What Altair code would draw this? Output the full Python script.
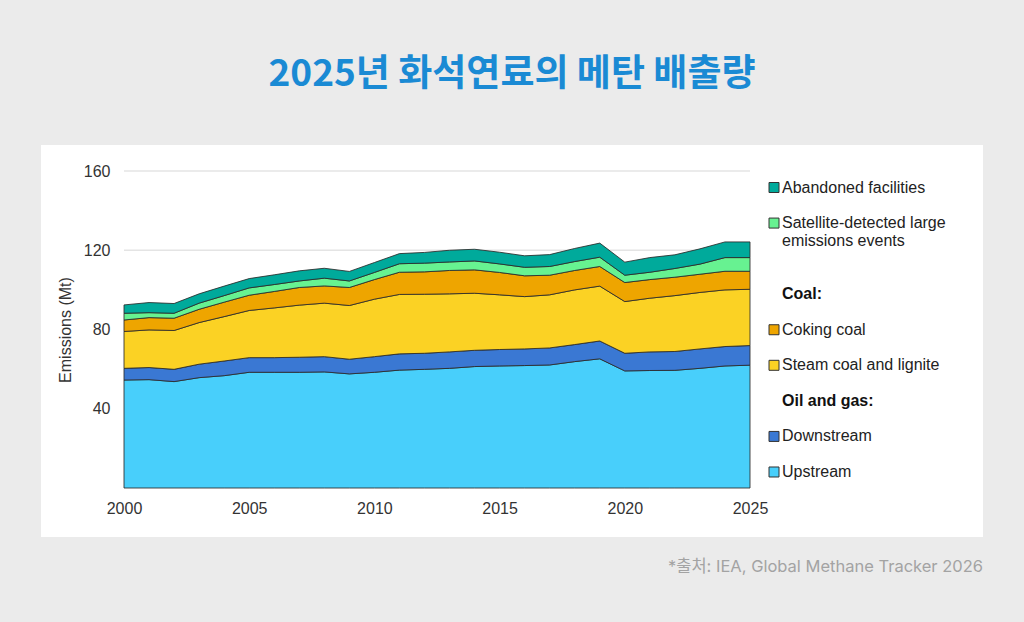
import altair as alt
import pandas as pd

# ---------------- data ----------------
years = list(range(2000, 2026))
upstream = [54.5, 54.7, 53.7, 55.7, 56.7, 58.4, 58.4, 58.4, 58.6, 57.6, 58.4, 59.5, 59.9,
            60.4, 61.3, 61.6, 61.8, 62.1, 63.8, 65.2, 59.1, 59.3, 59.4, 60.4, 61.6, 62.0]
downstream = [5.9, 6.1, 6.2, 6.8, 7.4, 7.4, 7.4, 7.6, 7.7, 7.4, 7.9, 8.2, 8.1,
              8.3, 8.2, 8.3, 8.4, 8.6, 8.6, 9.0, 8.9, 9.4, 9.5, 9.8, 9.8, 9.9]
steam_coal = [18.6, 19.0, 19.6, 21.0, 22.4, 23.8, 25.1, 26.3, 27.0, 27.1, 29.0, 30.0, 29.8,
              29.3, 28.8, 27.6, 26.4, 26.8, 27.6, 27.7, 26.1, 27.1, 28.2, 28.5, 28.6, 28.4]
coking_coal = [5.8, 6.2, 6.2, 6.7, 7.3, 7.7, 8.3, 8.9, 8.7, 9.1, 9.9, 11.2, 11.3,
               11.8, 11.8, 11.3, 10.5, 9.9, 9.8, 9.9, 9.6, 9.4, 9.3, 9.2, 9.4, 9.1]
satellite = [3.4, 2.5, 2.5, 3.1, 3.3, 3.7, 3.5, 3.3, 3.9, 3.3, 3.6, 4.3, 4.4,
             4.3, 4.5, 4.3, 4.3, 4.4, 4.5, 4.7, 3.7, 3.7, 4.4, 5.1, 6.9, 6.9]
abandoned = [4.2, 5.1, 4.9, 4.7, 4.8, 4.7, 4.9, 5.1, 5.0, 4.8, 5.0, 5.1, 5.4,
             5.9, 5.9, 5.9, 5.8, 6.0, 6.6, 7.1, 6.6, 7.4, 6.9, 7.7, 7.9, 7.9]

series_names = ["Upstream", "Downstream", "Steam coal and lignite", "Coking coal",
                "Satellite-detected large emissions events", "Abandoned facilities"]
series_colors = ["#48CFFB", "#3A78D3", "#FBD224", "#EEA500", "#67F291", "#00AA9B"]

x_ticks = [2000, 2005, 2010, 2015, 2020, 2025]
y_ticks = [40, 80, 120, 160]

legend_items = ["Abandoned facilities", "Satellite-detected large emissions events",
                "Coking coal", "Steam coal and lignite", "Downstream", "Upstream"]
legend_item_slots = [0, 1, 4, 5, 7, 8]
legend_lines = ["Abandoned facilities", "Satellite-detected large", "emissions events",
                "Coking coal", "Steam coal and lignite", "Downstream", "Upstream"]
legend_line_slots = [0, 1, 1.5, 4, 5, 7, 8]
legend_headers = ["Coal:", "Oil and gas:"]
legend_header_slots = [3, 6]

title_text = "2025년 화석연료의 메탄 배출량"
source_text = "*출처: IEA, Global Methane Tracker 2026"

# ---------------- tables ----------------
rows = []
for i, (name, vals) in enumerate(zip(series_names,
                                     [upstream, downstream, steam_coal, coking_coal, satellite, abandoned])):
    for yr, v in zip(years, vals):
        rows.append({"year": yr, "series": name, "value": v, "order": i})
df = pd.DataFrame(rows)

df_items = pd.DataFrame({"series": legend_items, "slot": legend_item_slots})
df_lines = pd.DataFrame({"label": legend_lines, "slot": legend_line_slots})
df_headers = pd.DataFrame({"label": legend_headers, "slot": legend_header_slots})
df_grid = pd.DataFrame({"g": y_ticks})
df_title = pd.DataFrame({"t": [title_text]})
df_source = pd.DataFrame({"t": [source_text]})
df_one = pd.DataFrame({"a": [1]})

W, H = 626, 317
FONT = "Liberation Sans"
KFONT = "Noto Sans CJK KR"

color_scale = alt.Scale(domain=series_names, range=series_colors)
y_scale = alt.Scale(domain=[0, 160], nice=False, zero=True)
slot_scale = alt.Scale(domain=[-0.464, 8.45], reverse=True, nice=False, zero=False)

panel = alt.Chart(df_one).mark_rect(color="white").encode(
    x=alt.value(-83), x2=alt.value(859), y=alt.value(-26), y2=alt.value(366)
)

grid = alt.Chart(df_grid).mark_rule(color="#E4E4E4", strokeWidth=1.5).encode(
    y=alt.Y("g:Q", scale=y_scale, axis=None),
    x=alt.value(0), x2=alt.value(W),
)

area = alt.Chart(df).mark_area(stroke="#2a2a2a", strokeWidth=1, strokeOpacity=0.85).encode(
    x=alt.X("year:Q", scale=alt.Scale(domain=[2000, 2025], nice=False, zero=False),
            axis=alt.Axis(values=x_ticks, format="d", title=None, grid=False, domain=False,
                          ticks=False, labelPadding=12, labelFontSize=16, labelColor="#333333",
                          labelFont=FONT, labelFlush=False, labelOverlap=False, zindex=2)),
    y=alt.Y("value:Q", stack="zero", scale=y_scale,
            axis=alt.Axis(values=y_ticks, title="Emissions (Mt)", grid=False, domain=False,
                          ticks=False, labelPadding=14, labelFontSize=16, labelColor="#333333",
                          labelFont=FONT, labelFlush=False, titleFont=FONT, titleFontSize=16,
                          titleFontWeight="normal", titleColor="#333333", titlePadding=10,
                          zindex=2)),
    color=alt.Color("series:N", scale=color_scale, legend=None),
    order=alt.Order("order:Q", sort="ascending"),
)

squares = alt.Chart(df_items).mark_square(size=100, stroke="#333333", strokeWidth=1,
                                          opacity=1).encode(
    x=alt.value(650),
    y=alt.Y("slot:Q", scale=slot_scale, axis=None),
    color=alt.Color("series:N", scale=color_scale, legend=None),
)

labels = alt.Chart(df_lines).mark_text(align="left", baseline="middle", font=FONT,
                                       fontSize=16, color="#222222").encode(
    x=alt.value(658),
    y=alt.Y("slot:Q", scale=slot_scale, axis=None),
    text="label:N",
)

headers = alt.Chart(df_headers).mark_text(align="left", baseline="middle", font=FONT,
                                          fontSize=16, fontWeight="bold",
                                          color="#111111").encode(
    x=alt.value(658),
    y=alt.Y("slot:Q", scale=slot_scale, axis=None),
    text="label:N",
)

title = alt.Chart(df_title).mark_text(align="center", baseline="middle", font=KFONT,
                                      fontSize=37, fontWeight="bold", color="#1A8AD4").encode(
    x=alt.value(388), y=alt.value(-96), text="t:N"
)

source = alt.Chart(df_source).mark_text(align="right", baseline="middle",
                                        font="Inter, Noto Sans CJK KR", fontSize=16.5,
                                        color="#A3A3A3").encode(
    x=alt.value(859), y=alt.value(396), text="t:N"
)

chart = alt.layer(panel, grid, area, squares, labels, headers, title, source).resolve_scale(
    y="independent"
).properties(
    width=W, height=H,
    autosize=alt.AutoSizeParams(type="none"),
    padding={"left": 124, "top": 171, "right": 274, "bottom": 134},
    background="#EBEBEB",
).configure_view(stroke=None)

chart.save("out.html", embed_options={"renderer": "svg", "actions": False})
